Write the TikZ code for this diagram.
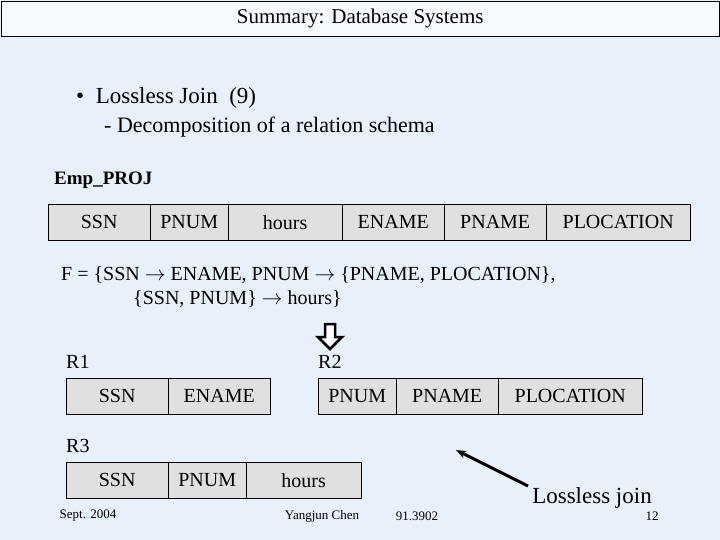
\documentclass[tikz,border=0pt]{standalone}
\usepackage{fontspec}
\setmainfont{Liberation Serif}
\usetikzlibrary{positioning, arrows.meta}
\definecolor{slidebg}{HTML}{E8F1FB}
\definecolor{cellgray}{HTML}{E0E0E0}

\begin{document}
\begin{tikzpicture}[
    x=1pt, y=-1pt,
    cell/.style={rectangle, draw, fill=cellgray, minimum height=36pt, inner sep=0pt, anchor=north west, font=\fontsize{20}{22}\selectfont},
    label/.style={anchor=west, inner sep=0pt, font=\fontsize{20}{22}\selectfont},
    foot/.style={inner sep=0pt, font=\fontsize{13}{15}\selectfont}
]
\fill[slidebg] (0,0) rectangle (720,540);
\useasboundingbox (0,0) rectangle (720,540);

\node (title) [draw, fill=white!60!slidebg, minimum width=718pt, minimum height=35pt, anchor=north west, inner sep=0pt, font=\fontsize{21}{23}\selectfont] at (1,1) {Summary: Database Systems};

\node (bullet) [anchor=west, inner sep=0pt, font=\fontsize{23}{25}\selectfont] at (76,98) {\textbullet\enspace Lossless Join\enspace(9)};
\node (sub) [anchor=west, inner sep=0pt, font=\fontsize{22}{24}\selectfont] at (104,127) {- Decomposition of a relation schema};

\node (emp) [anchor=west, inner sep=0pt, font=\bfseries\fontsize{19}{21}\selectfont] at (54,180) {Emp\_PROJ};

% Emp_PROJ
\node (e1) [cell, minimum width=102pt] at (48,204) {SSN};
\node (e2) [cell, minimum width=78pt] at (150,204) {PNUM};
\node (e3) [cell, minimum width=114pt] at (228,204) {hours};
\node (e4) [cell, minimum width=102pt] at (342,204) {ENAME};
\node (e5) [cell, minimum width=102pt] at (444,204) {PNAME};
\node (e6) [cell, minimum width=144pt] at (546,204) {PLOCATION};

\node (f1) [label] at (61,275) {F = \{SSN $\rightarrow$ ENAME, PNUM $\rightarrow$ \{PNAME, PLOCATION\},};
\node (f2) [label] at (133,299) {\{SSN, PNUM\} $\rightarrow$ hours\}};

% hollow arrow
\draw[line width=2.5pt, fill=white] (325,324) -- (335,324) -- (335,337) -- (342,337) -- (330,349) -- (318,337) -- (325,337) -- cycle;

\node (r1) [label] at (66,362) {R1};
\node (r2) [label] at (318,362) {R2};
\node (r3) [label] at (66,446) {R3};

% R1
\node (a1) [cell, minimum width=102pt] at (66,378) {SSN};
\node (a2) [cell, minimum width=102pt] at (168,378) {ENAME};
% R2
\node (b1) [cell, minimum width=78pt] at (318,378) {PNUM};
\node (b2) [cell, minimum width=102pt] at (396,378) {PNAME};
\node (b3) [cell, minimum width=144pt] at (498,378) {PLOCATION};
% R3
\node (c1) [cell, minimum width=102pt] at (66,462) {SSN};
\node (c2) [cell, minimum width=78pt] at (168,462) {PNUM};
\node (c3) [cell, minimum width=115pt] at (246,462) {hours};

\node (lj) [inner sep=0pt, font=\fontsize{23}{25}\selectfont] at (592,498) {Lossless join};
\coordinate (ljtip) at (456,450);
\draw[line width=3pt, -{Stealth[length=10pt]}] (528,486) -- (ljtip);

\node (date) [foot] at (88,516) {Sept. 2004};
\node (auth) [foot] at (322,516) {Yangjun Chen};
\node (course) [foot] at (417,516) {91.3902};
\node (page) [foot] at (652,516) {12};
\end{tikzpicture}
\end{document}
